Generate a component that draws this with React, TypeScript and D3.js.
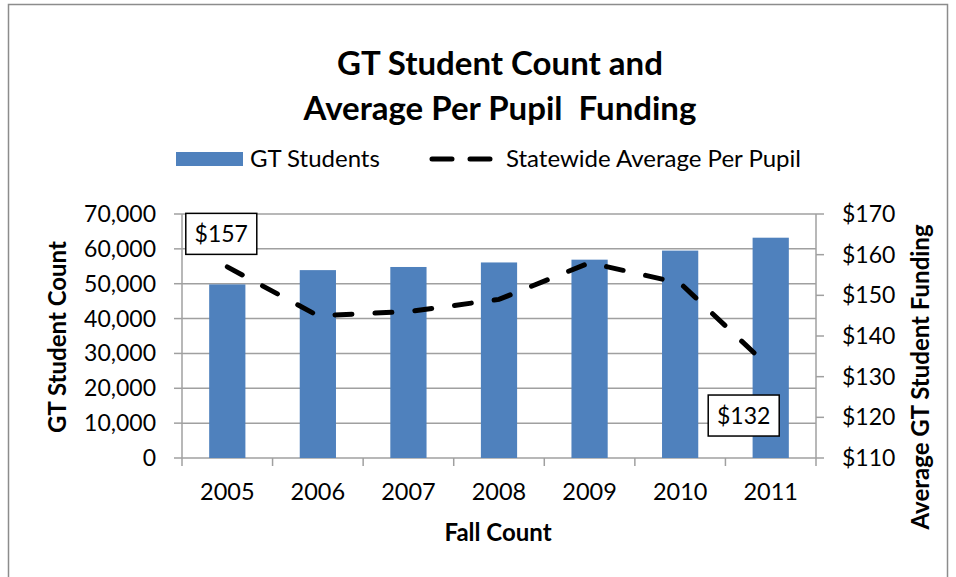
import React from "react";
import * as d3 from "d3";

const years = ["2005", "2006", "2007", "2008", "2009", "2010", "2011"];
const gtStudents = [49800, 53900, 54800, 56100, 56900, 59500, 63200];
const avgFunding = [157, 145, 146, 149, 158, 153, 132];
const leftTicks = [0, 10000, 20000, 30000, 40000, 50000, 60000, 70000];
const rightTicks = [110, 120, 130, 140, 150, 160, 170];

const FONT = "Lato, 'Open Sans', sans-serif";

export default function App() {
  const W = 956, H = 577;
  const left = 182, right = 816, top = 214, bottom = 458;
  const x = d3.scaleBand().domain(years).range([left, right]).paddingInner(0.6).paddingOuter(0.3);
  const xc = (d: string) => (x(d) as number) + x.bandwidth() / 2;
  const yL = d3.scaleLinear().domain([0, 70000]).range([bottom, top]);
  const yR = d3.scaleLinear().domain([110, 170]).range([bottom, top]);
  const step = (right - left) / years.length;
  const fmt = d3.format(",");
  const line = d3.line<number>().x((_, i) => xc(years[i])).y((d) => yR(d));
  const grid = "#a0a0a0";

  const labels = [
    { i: 0, dx: -6, dy: -33 },
    { i: 6, dx: -27, dy: 47 },
  ];

  return (
    <svg width={W} height={H} style={{ position: "absolute", left: 0, top: 0, fontFamily: FONT }}>
      <rect x={0} y={0} width={W} height={H} fill="#fff" />
      <rect x={8.5} y={4.5} width={939} height={600} fill="none" stroke="#8c8c8c" strokeWidth={1.5} />
      <text x={500} y={75} textAnchor="middle" fontSize={33} fontWeight="bold">GT Student Count and</text>
      <text x={500} y={120} textAnchor="middle" fontSize={33} fontWeight="bold" style={{ whiteSpace: "pre" }}>Average Per Pupil  Funding</text>

      {/* legend */}
      <rect x={176} y={152} width={67} height={14} fill="#4f81bd" />
      <text x={250} y={167} fontSize={24}>GT Students</text>
      <line x1={432} x2={490} y1={159} y2={159} stroke="#000" strokeWidth={5} strokeDasharray="20 18" strokeLinecap="round" />
      <text x={506} y={167} fontSize={24}>Statewide Average Per Pupil</text>

      {/* gridlines */}
      {leftTicks.map((t) => (
        <line key={t} x1={left} x2={right} y1={yL(t)} y2={yL(t)} stroke={grid} strokeWidth={1.5} />
      ))}
      {/* axes */}
      <line x1={left} x2={left} y1={top} y2={bottom} stroke={grid} strokeWidth={1.5} />
      <line x1={right} x2={right} y1={top} y2={bottom} stroke={grid} strokeWidth={1.5} />
      {leftTicks.map((t) => (
        <g key={"l" + t}>
          <line x1={left - 8} x2={left} y1={yL(t)} y2={yL(t)} stroke={grid} strokeWidth={1.5} />
          <text x={156} y={yL(t)} dy="0.35em" textAnchor="end" fontSize={23}>{fmt(t)}</text>
        </g>
      ))}
      {rightTicks.map((t) => (
        <g key={"r" + t}>
          <line x1={right} x2={right + 8} y1={yR(t)} y2={yR(t)} stroke={grid} strokeWidth={1.5} />
          <text x={842} y={yR(t)} dy="0.35em" textAnchor="start" fontSize={23}>{"$" + t}</text>
        </g>
      ))}
      {d3.range(years.length + 1).map((i) => (
        <line key={"xt" + i} x1={left + i * step} x2={left + i * step} y1={bottom} y2={bottom + 8} stroke={grid} strokeWidth={1.5} />
      ))}
      {years.map((yr) => (
        <text key={"xl" + yr} x={xc(yr)} y={500} textAnchor="middle" fontSize={23.5}>{yr}</text>
      ))}

      {/* bars */}
      {gtStudents.map((v, i) => (
        <rect key={"b" + i} x={x(years[i])} y={yL(v)} width={x.bandwidth()} height={bottom - yL(v)} fill="#4f81bd" />
      ))}

      {/* line */}
      <path d={line(avgFunding) || ""} fill="none" stroke="#000" strokeWidth={5} strokeDasharray="17 23" strokeLinecap="round" />

      {/* data labels */}
      {labels.map(({ i, dx, dy }) => {
        const cx = xc(years[i]) + dx;
        const cy = yR(avgFunding[i]) + dy;
        return (
          <g key={"lab" + i}>
            <rect x={cx - 35.5} y={cy - 20.5} width={71} height={41} fill="#fff" stroke="#000" strokeWidth={1.5} />
            <text x={cx} y={cy} dy="0.35em" textAnchor="middle" fontSize={23}>{"$" + avgFunding[i]}</text>
          </g>
        );
      })}

      {/* axis titles */}
      <text transform="translate(66,337) rotate(-90)" textAnchor="middle" fontSize={24} fontWeight="bold">GT Student Count</text>
      <text transform="translate(929,377) rotate(-90)" textAnchor="middle" fontSize={24} fontWeight="bold">Average GT Student Funding</text>
      <text x={498} y={541} textAnchor="middle" fontSize={24} fontWeight="bold">Fall Count</text>
    </svg>
  );
}
